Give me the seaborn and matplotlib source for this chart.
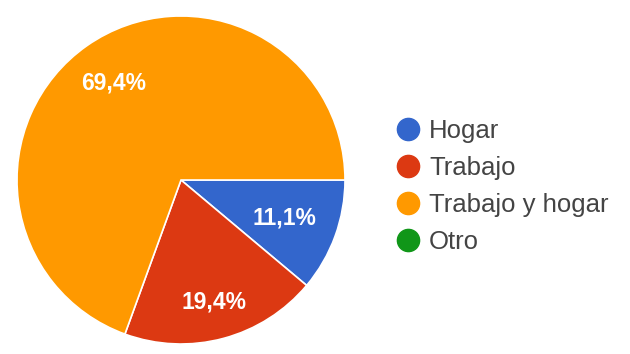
import matplotlib
matplotlib.use("Agg")
import matplotlib.pyplot as plt
from matplotlib.lines import Line2D
import seaborn as sns

# Responses per place
categories = ["Hogar", "Trabajo", "Trabajo y hogar", "Otro"]
counts = [4, 7, 25, 0]
colors = ["#3366CC", "#DC3912", "#FF9900", "#109618"]

sns.set_theme(style="white")
plt.rcParams["font.family"] = ["Liberation Sans", "DejaVu Sans"]
palette = sns.color_palette(colors)

W, H = 630, 354
fig = plt.figure(figsize=(W / 100, H / 100), dpi=100)
fig.patch.set_facecolor("white")

cx, cy, r = 181, 180, 164
ax = fig.add_axes([(cx - r) / W, (H - cy - r) / H, 2 * r / W, 2 * r / H])

shown = [(c, col) for c, col in zip(counts, palette) if c > 0]
vals = [c for c, _ in shown]
cols = [col for _, col in shown]


def fmt(p):
    return f"{p:.1f}%".replace(".", ",") if p > 0 else ""


wedges, texts, autotexts = ax.pie(
    vals,
    colors=cols,
    startangle=0,
    counterclock=False,
    autopct=fmt,
    pctdistance=0.72,
    radius=1.0,
    wedgeprops=dict(edgecolor="white", linewidth=1.2),
    textprops=dict(color="white", fontsize=16.5, fontweight="bold"),
)
# nudge the labels of the small slices along their radius
label_scale = [0.93, 1.07, 1.0]
for t, s in zip(autotexts, label_scale):
    x, y = t.get_position()
    t.set_position((x * s, y * s))

ax.set_xlim(-1, 1)
ax.set_ylim(-1, 1)
ax.set_aspect("equal")
ax.axis("off")

handles = [
    Line2D([], [], marker="o", linestyle="", markersize=16,
           markerfacecolor=col, markeredgecolor=col)
    for col in palette
]
fig.legend(
    handles, categories,
    loc="upper left",
    bbox_to_anchor=(397 / W, 1 - 119 / H),
    frameon=False,
    fontsize=18.5,
    handlelength=0.85,
    handletextpad=0.4,
    labelspacing=0.5,
    borderpad=0,
    borderaxespad=0,
    labelcolor="#444444",
)

fig.savefig("out.png", dpi=100, facecolor="white")
